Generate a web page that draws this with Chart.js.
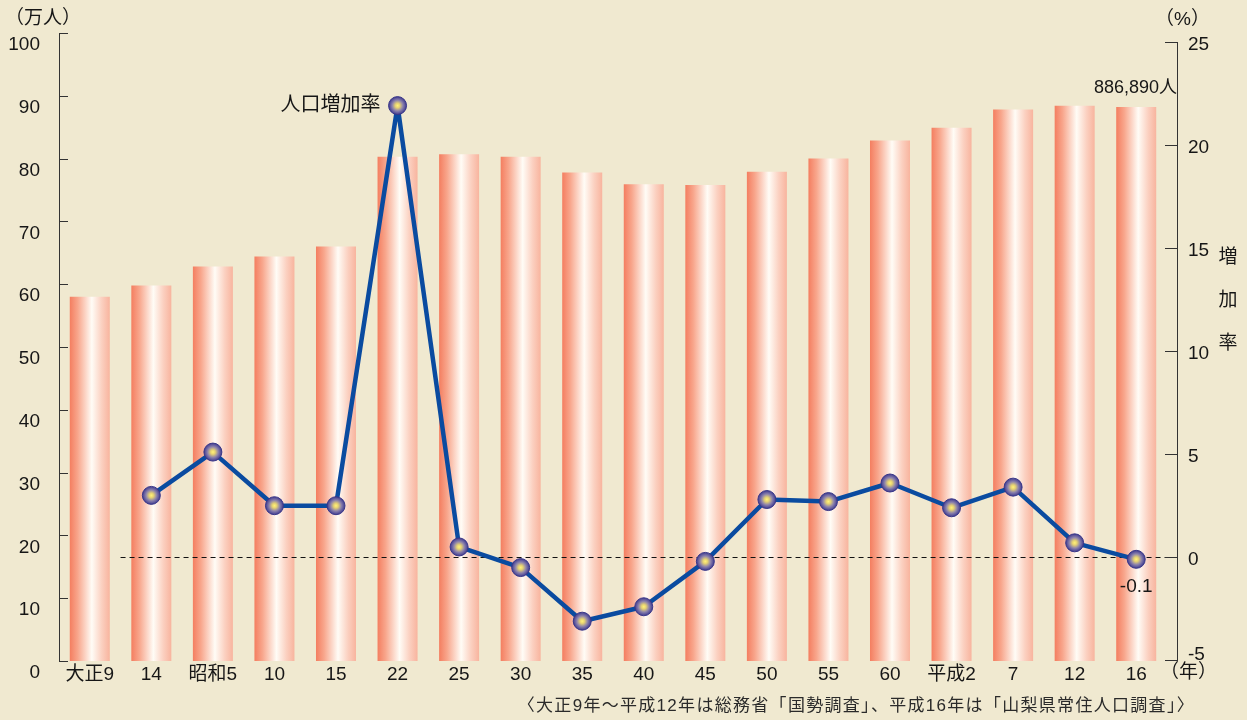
<!DOCTYPE html>
<html lang="ja">
<head>
<meta charset="utf-8">
<title>山梨県の人口と人口増加率</title>
<script src="https://cdn.jsdelivr.net/npm/chart.js@4.4.0/dist/chart.umd.min.js"></script>
<style>
  html, body { margin: 0; padding: 0; background: #F0E9D0; }
  canvas { display: block; }
</style>
</head>
<body>
<canvas id="grafica" width="1247" height="720"></canvas>
<script>
/* ===============================
   DATOS
=============================== */
const anios = ["大正9","14","昭和5","10","15","22","25","30","35","40","45","50","55","60","平成2","7","12","16"];
// 人口（万人）
const poblacion = [58.0, 59.8, 62.8, 64.4, 66.0, 80.3, 80.7, 80.3, 77.8, 75.9, 75.8, 77.9, 80.0, 82.9, 84.9, 87.8, 88.4, 88.2];
// 人口増加率（%）
const tasa = [null, 3.0, 5.1, 2.5, 2.5, 21.9, 0.5, -0.5, -3.1, -2.4, -0.2, 2.8, 2.7, 3.6, 2.4, 3.4, 0.7, -0.1];
const ticksIzq = [0, 10, 20, 30, 40, 50, 60, 70, 80, 90, 100];
const ticksDer = [-5, 0, 5, 10, 15, 20, 25];

const FUENTE = '"Liberation Sans", "Noto Sans CJK JP", sans-serif';
const TEXTO = "#161616";
const FONDO = "#F0E9D0";

/* ===============================
   GRADIENTES
=============================== */
function gradienteBarra(c) {
  const ch = c.chart, xs = ch.scales.x;
  if (c.type !== "data" || !xs) return "#F6A58C";
  const cx = xs.getPixelForValue(c.dataIndex);
  const w = xs.width / anios.length * 0.65;
  if (!isFinite(cx) || !isFinite(w) || w <= 0) return "#F6A58C";
  const g = ch.ctx.createLinearGradient(cx - w / 2, 0, cx + w / 2, 0);
  g.addColorStop(0, "#F47E60");
  g.addColorStop(0.2, "#F8A68C");
  g.addColorStop(0.55, "#FFFCF6");
  g.addColorStop(0.8, "#FBD0C0");
  g.addColorStop(1, "#F8B49E");
  return g;
}

function gradientePunto(c) {
  const ch = c.chart, xs = ch.scales.x, ys = ch.scales.y1;
  if (c.type !== "data" || !xs || !ys || c.raw == null) return "#6C64A8";
  const x = xs.getPixelForValue(c.dataIndex);
  const y = ys.getPixelForValue(c.raw);
  if (!isFinite(x) || !isFinite(y)) return "#6C64A8";
  const g = ch.ctx.createRadialGradient(x, y, 0, x, y, 9);
  g.addColorStop(0, "#FFF27A");
  g.addColorStop(0.25, "#E6D272");
  g.addColorStop(0.6, "#8C82AC");
  g.addColorStop(1, "#3E3A90");
  return g;
}

/* ===============================
   PLUGIN: ejes, línea 0 y textos
=============================== */
const extras = {
  id: "extras",
  beforeDraw(chart) {
    const ctx = chart.ctx;
    ctx.save();
    ctx.fillStyle = FONDO;
    ctx.fillRect(0, 0, chart.width, chart.height);
    ctx.restore();
  },
  afterLayout(chart) {
    // las barras terminan un poco antes del eje derecho
    const xs = chart.scales.x;
    xs.right -= 10;
    xs.width -= 10;
    xs.configure();
  },
  afterDatasetDraw(chart, args) {
    if (args.index !== 0) return;
    const ctx = chart.ctx, xs = chart.scales.x, y1 = chart.scales.y1;
    const y0 = Math.round(y1.getPixelForValue(0)) + 0.5;
    ctx.save();
    ctx.strokeStyle = "#111";
    ctx.lineWidth = 1;
    ctx.setLineDash([5, 4]);
    ctx.beginPath();
    ctx.moveTo(xs.getPixelForValue(0.5), y0);
    ctx.lineTo(xs.right, y0);
    ctx.stroke();
    ctx.restore();
  },
  afterDraw(chart) {
    const ctx = chart.ctx, a = chart.chartArea;
    const y = chart.scales.y, y1 = chart.scales.y1;
    ctx.save();
    ctx.strokeStyle = "#333";
    ctx.lineWidth = 1;
    // eje derecho
    const xr = Math.round(a.right) + 0.5;
    ctx.beginPath();
    ctx.moveTo(xr, Math.round(y1.getPixelForValue(ticksDer[ticksDer.length - 1])));
    ctx.lineTo(xr, Math.round(y1.getPixelForValue(ticksDer[0])) + 1);
    ctx.stroke();
    // marcas hacia dentro
    ticksIzq.forEach(v => {
      const p = Math.round(y.getPixelForValue(v)) + 0.5;
      ctx.beginPath(); ctx.moveTo(a.left, p); ctx.lineTo(a.left + 9, p); ctx.stroke();
    });
    ticksDer.forEach(v => {
      const p = Math.round(y1.getPixelForValue(v)) + 0.5;
      ctx.beginPath(); ctx.moveTo(a.right - 12, p); ctx.lineTo(a.right + 1, p); ctx.stroke();
    });

    ctx.fillStyle = TEXTO;
    ctx.textBaseline = "middle";
    // etiquetas del eje derecho
    ctx.font = "19px " + FUENTE;
    ctx.textAlign = "left";
    ticksDer.forEach(v => {
      const dy = v === ticksDer[0] ? -6 : 3;
      ctx.fillText(String(v), a.right + 11, y1.getPixelForValue(v) + dy);
    });

    // unidades
    ctx.font = "19px " + FUENTE;
    ctx.fillText("（万人）", 5, 19);
    ctx.fillText("（%）", a.right - 22, 20);
    ctx.fillText("（年）", a.right - 17, 673);
    ctx.font = "19px " + FUENTE;
    ctx.textAlign = "center";
    ["増", "加", "率"].forEach((ch, i) => ctx.fillText(ch, 1228, 258 + i * 43));

    // anotaciones
    const lm = chart.getDatasetMeta(1).data;
    const bm = chart.getDatasetMeta(0).data;
    ctx.font = "20px " + FUENTE;
    ctx.textAlign = "right";
    ctx.fillText("人口増加率", lm[5].x - 17, lm[5].y);
    ctx.font = "18px " + FUENTE;
    ctx.fillText("886,890人", a.right, bm[17].y - 19);
    ctx.font = "19px " + FUENTE;
    ctx.textAlign = "center";
    ctx.fillText("-0.1", lm[17].x, lm[17].y + 27);

    // fuente
    ctx.font = "17px " + FUENTE;
    ctx.letterSpacing = "1.3px";
    ctx.textAlign = "right";
    ctx.fillStyle = "#2a2a2a";
    ctx.fillText("〈大正9年～平成12年は総務省「国勢調査」、平成16年は「山梨県常住人口調査」〉", 1195, 706);
    ctx.restore();
  }
};

/* ===============================
   GRÁFICA
=============================== */
new Chart(document.getElementById("grafica"), {
  type: "bar",
  data: {
    labels: anios,
    datasets: [
      {
        type: "bar",
        label: "人口",
        data: poblacion,
        yAxisID: "y",
        backgroundColor: gradienteBarra,
        borderWidth: 0,
        barPercentage: 0.65,
        categoryPercentage: 1,
        order: 2
      },
      {
        type: "line",
        label: "人口増加率",
        data: tasa,
        yAxisID: "y1",
        borderColor: "#0A4BA0",
        borderWidth: 4.5,
        borderJoinStyle: "round",
        tension: 0,
        pointRadius: 9,
        pointBackgroundColor: gradientePunto,
        pointBorderColor: "#3A3788",
        pointBorderWidth: 1,
        order: 1
      }
    ]
  },
  options: {
    responsive: false,
    animation: false,
    devicePixelRatio: 1,
    layout: { padding: { top: 33, left: 0, right: 0, bottom: 0 } },
    plugins: { legend: { display: false }, tooltip: { enabled: false } },
    scales: {
      x: {
        grid: { display: false, drawTicks: false },
        border: { display: false },
        ticks: { color: TEXTO, font: { family: FUENTE, size: 19 }, padding: 2, maxRotation: 0, autoSkip: false },
        afterFit: s => { s.height = 59; }
      },
      y: {
        position: "left",
        min: ticksIzq[0], max: ticksIzq[ticksIzq.length - 1],
        grid: { display: false, drawTicks: false },
        border: { display: true, color: "#333", width: 1 },
        ticks: { color: TEXTO, font: { family: FUENTE, size: 19 }, padding: 19, labelOffset: 12 },
        afterBuildTicks: s => { s.ticks = ticksIzq.map(v => ({ value: v })); },
        afterFit: s => { s.width = 59; }
      },
      y1: {
        position: "right",
        min: -5.03, max: 25.42,
        grid: { display: false, drawTicks: false },
        border: { display: false },
        ticks: { display: false },
        afterBuildTicks: s => { s.ticks = ticksDer.map(v => ({ value: v })); },
        afterFit: s => { s.width = 70; }
      }
    }
  },
  plugins: [extras]
});
</script>
</body>
</html>
